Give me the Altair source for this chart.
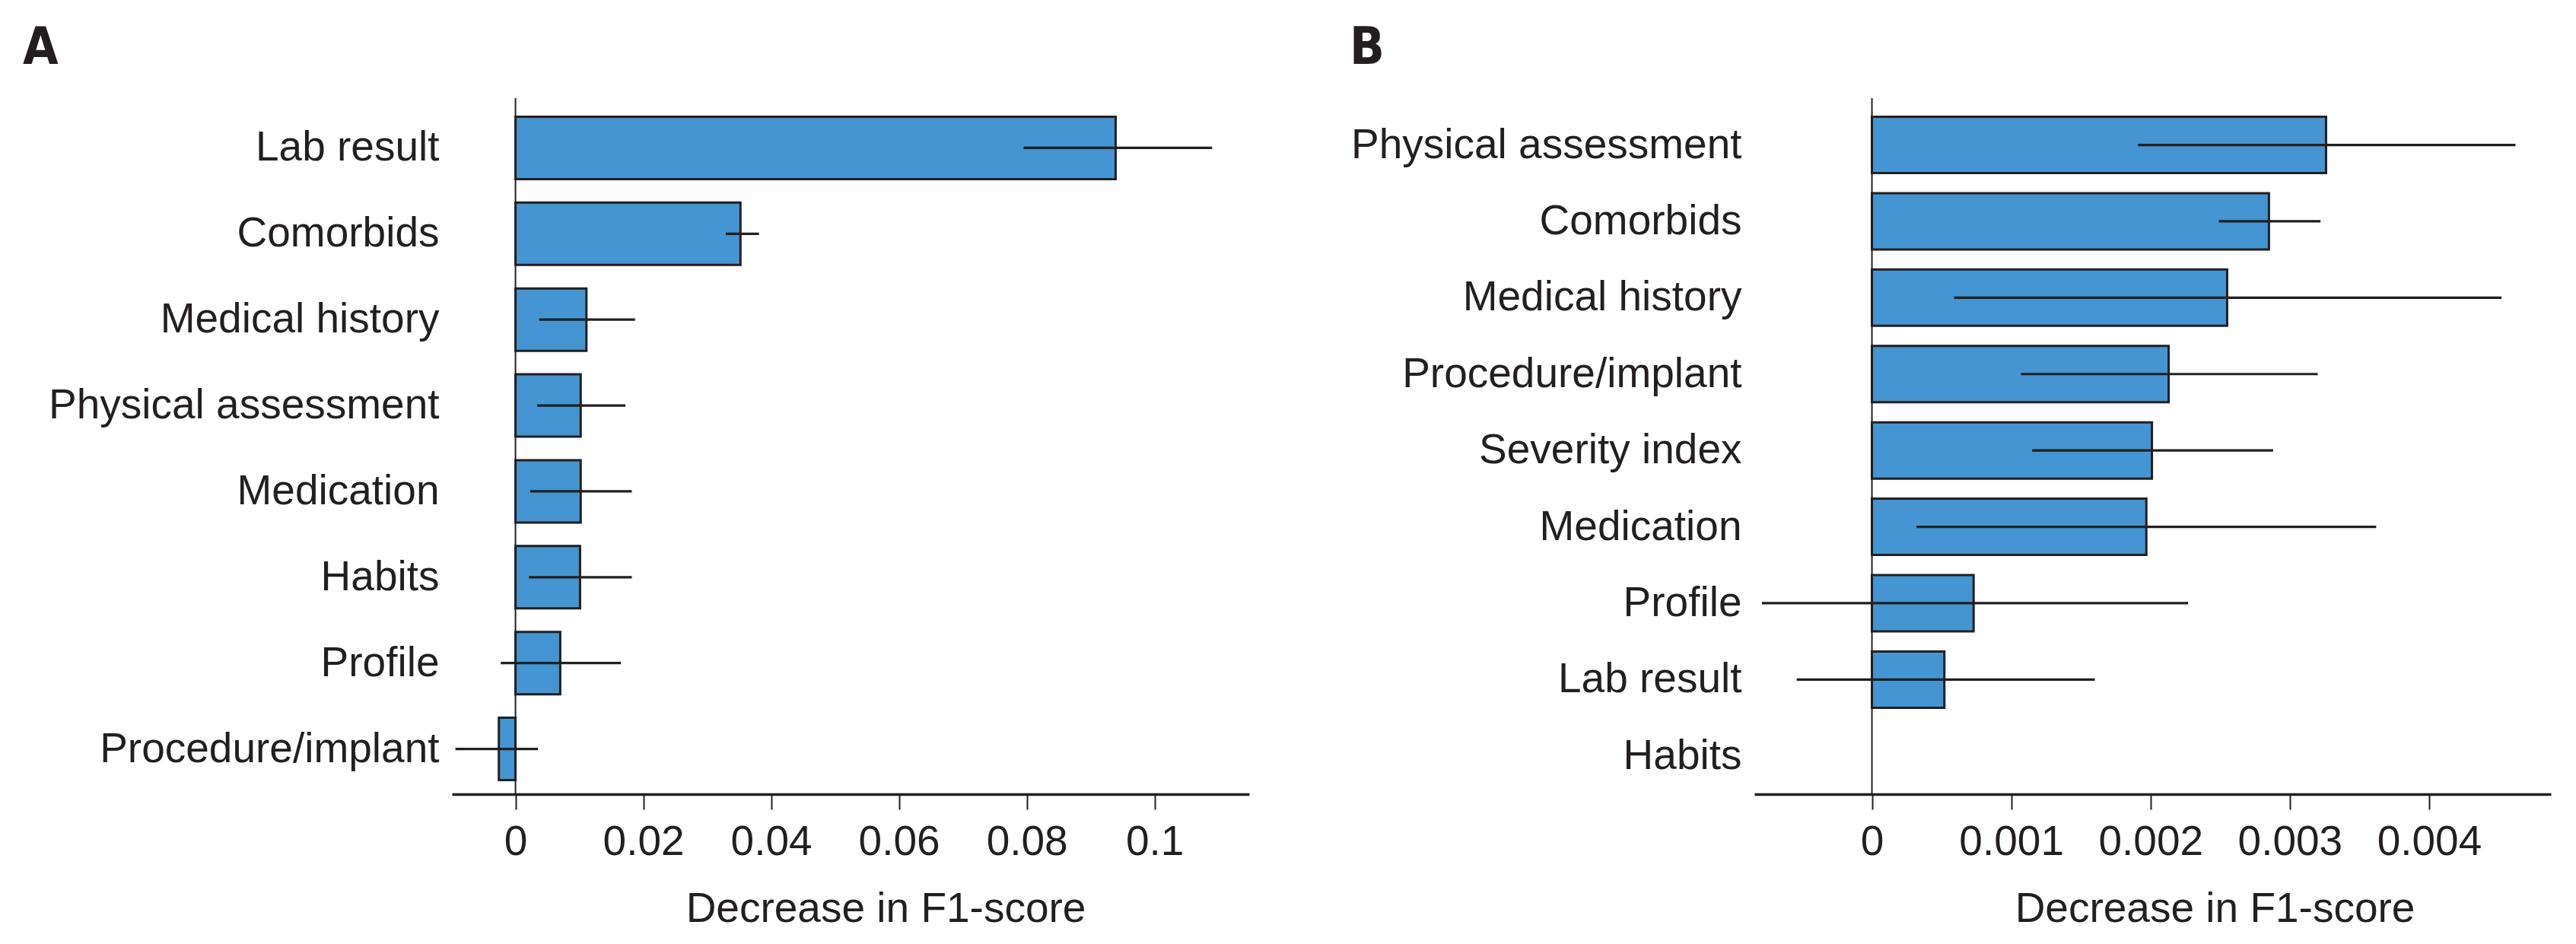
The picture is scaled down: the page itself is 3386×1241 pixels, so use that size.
import altair as alt
import pandas as pd

# ---- Panel A data ----
cats_a = ["Lab result", "Comorbids", "Medical history", "Physical assessment",
          "Medication", "Habits", "Profile", "Procedure/implant"]
imp_a = [0.0939, 0.0352, 0.0111, 0.0102, 0.0102, 0.0101, 0.0070, -0.0026]
lo_a = [0.0795, 0.0329, 0.0037, 0.0034, 0.0023, 0.0021, -0.0023, -0.0094]
hi_a = [0.1090, 0.0381, 0.0187, 0.0172, 0.0182, 0.0182, 0.0165, 0.0035]
ticks_a = [0, 0.02, 0.04, 0.06, 0.08, 0.1]

# ---- Panel B data ----
cats_b = ["Physical assessment", "Comorbids", "Medical history", "Procedure/implant",
          "Severity index", "Medication", "Profile", "Lab result", "Habits"]
imp_b = [0.00326, 0.00285, 0.00255, 0.00213, 0.00201, 0.00197, 0.00073, 0.00052, 0.0]
lo_b = [0.00191, 0.00249, 0.00059, 0.00107, 0.00115, 0.00032, -0.00079, -0.00054, None]
hi_b = [0.00462, 0.00322, 0.00452, 0.00320, 0.00288, 0.00362, 0.00227, 0.00160, None]
ticks_b = [0, 0.001, 0.002, 0.003, 0.004]

INK = "#231f20"
BLUE = "#4495d1"
FONT = "Liberation Sans"
FS = 55


def panel(cats, imp, lo, hi, ticks, domain, letter, letter_dx, title_x,
          width, height, pad_inner, pad_outer, align):
    df = pd.DataFrame({"feature": cats, "imp": imp, "lo": lo, "hi": hi})
    yscale = alt.Scale(domain=cats, paddingInner=pad_inner,
                       paddingOuter=pad_outer, align=align)
    xscale = alt.Scale(domain=domain, nice=False, zero=False)
    base = alt.Chart(df)
    bars = base.transform_filter("datum.imp != 0").mark_bar(
        fill=BLUE, stroke=INK, strokeWidth=3
    ).encode(
        y=alt.Y("feature:N", scale=yscale, sort=cats,
                axis=alt.Axis(title=None, domain=False, ticks=False,
                              labelPadding=17, labelFontSize=FS, labelFont=FONT,
                              labelColor=INK, labelLimit=2000)),
        x=alt.X("imp:Q", scale=xscale,
                axis=alt.Axis(values=ticks, format="~g", grid=False,
                              domainColor=INK, domainWidth=3.3,
                              tickColor=INK, tickWidth=2, tickSize=20,
                              labelPadding=16, labelFontSize=FS, labelFont=FONT,
                              labelColor=INK, labelFlush=False,
                              title="Decrease in F1-score", titleFontSize=FS,
                              titleFont=FONT, titleFontWeight="normal",
                              titleColor=INK, titleX=title_x, titleY=167,
                              titleAlign="center", titleBaseline="alphabetic",
                              titleAngle=0)),
        x2=alt.datum(0),
    )
    errs = base.transform_filter("isValid(datum.lo)").mark_rule(
        color=INK, strokeWidth=3.2
    ).encode(
        y=alt.Y("feature:N", scale=yscale, sort=cats),
        x=alt.X("lo:Q", scale=xscale),
        x2="hi:Q",
    )
    zero = alt.Chart(pd.DataFrame({"z": [0]})).mark_rule(
        color=INK, strokeWidth=2
    ).encode(x=alt.X("z:Q", scale=xscale))
    return alt.layer(bars, errs, zero).properties(
        width=width, height=height,
        title=alt.TitleParams(letter, anchor="start", frame="group",
                              dx=letter_dx, offset=-23, fontSize=67,
                              font="Liberation Sans Narrow, DejaVu Sans Condensed, Arial Narrow",
                              fontWeight="bold", color=INK,
                              baseline="alphabetic"),
    )


pa = panel(cats_a, imp_a, lo_a, hi_a, ticks_a, [-0.00995, 0.1148], "A", -564,
           570, 1048, 915, 0.274, 0.19, 0.57)
pb = panel(cats_b, imp_b, lo_b, hi_b, ticks_b, [-0.000844, 0.004874], "B", -532,
           605, 1047, 915, 0.263, 0.188, 0.65)

chart = alt.hconcat(pa, pb, spacing=132).properties(
    padding={"left": 22, "top": 22, "right": 5, "bottom": 5}
).configure_view(strokeWidth=0)

chart.save("out.html", embed_options={"renderer": "svg", "actions": False})
